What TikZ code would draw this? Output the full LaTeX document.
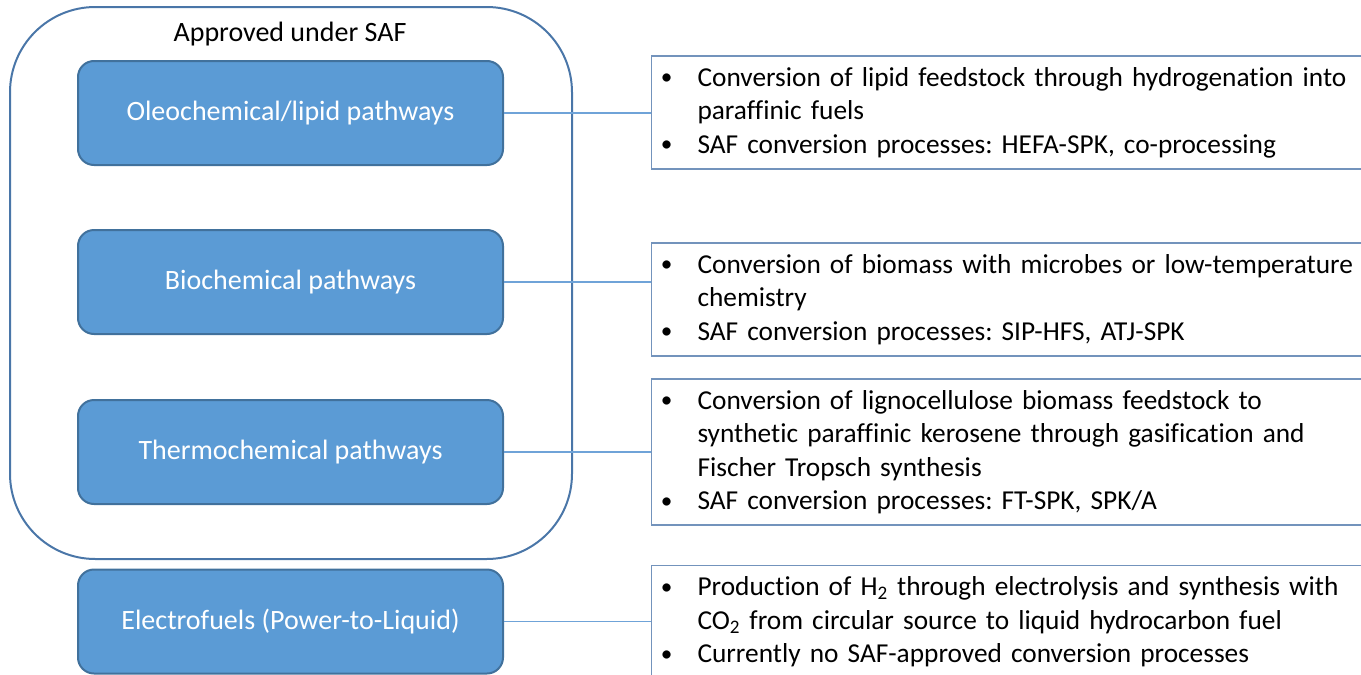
\documentclass[tikz,border=0pt]{standalone}
\usepackage{fontspec}
\setmainfont{Carlito}[Ligatures={NoCommon}]
\frenchspacing
\definecolor{bluefill}{HTML}{5B9BD5}
\definecolor{blueedge}{HTML}{41719C}
\definecolor{frameedge}{HTML}{4A76A8}
\definecolor{linkcol}{HTML}{6FA3D8}
\definecolor{noteedge}{HTML}{7393BC}
\newcommand{\bul}{\makebox[34.5pt][l]{\hspace{7pt}\raisebox{1pt}{\scalebox{0.85}{\textbullet}}}}
\newcommand{\cont}{\hspace*{34.5pt}}
\tikzset{
  px/.style={x=0.75pt,y=-0.75pt},
  pathbox/.style={draw=blueedge, line width=1.5pt, fill=bluefill, rounded corners=12pt,
    minimum width=318.75pt, minimum height=78pt, inner sep=0pt,
    text=white, font=\fontsize{21}{25}\selectfont},
  notebox/.style={draw=noteedge, line width=0.8pt, minimum width=547.5pt, inner xsep=0pt,
    inner ysep=0pt, align=left, text width=547.5pt,
    font=\fontsize{20.5}{25.1}\selectfont},
  frame/.style={draw=frameedge, line width=1.5pt, rounded corners=64pt},
  link/.style={draw=linkcol, line width=0.8pt}
}
\begin{document}
\begin{tikzpicture}[px]
\useasboundingbox (0,0) rectangle (1361,675);
\node[frame, minimum width=421.5pt, minimum height=414pt, anchor=north west] (saf) at (9,6) {};
\node[font=\fontsize{21}{25}\selectfont, anchor=center] (saftitle) at (290,34.5) {Approved under SAF};
\node[pathbox] (oleo) at (290.5,113) {Oleochemical/lipid pathways};
\node[pathbox] (bio) at (290.5,282) {Biochemical pathways};
\node[pathbox] (thermo) at (290.5,452) {Thermochemical pathways};
\node[pathbox] (elec) at (290.5,621.5) {Electrofuels (Power-to-Liquid)};
\node[notebox, minimum height=84.75pt, anchor=west] (n1) at (651,112.5) {%
\bul Conversion of lipid feedstock through hydrogenation into\\
\cont paraffinic fuels\\
\bul SAF conversion processes: HEFA-SPK, co-processing};
\node[notebox, minimum height=84.75pt, anchor=west] (n2) at (651,299.5) {%
\bul Conversion of biomass with microbes or low-temperature\\
\cont chemistry\\
\bul SAF conversion processes: SIP-HFS, ATJ-SPK};
\node[notebox, minimum height=109.5pt, anchor=west] (n3) at (651,452) {%
\bul Conversion of lignocellulose biomass feedstock to\\
\cont synthetic paraffinic kerosene through gasification and\\
\cont Fischer Tropsch synthesis\\
\bul SAF conversion processes: FT-SPK, SPK/A};
\node[notebox, minimum height=84.75pt, anchor=west] (n4) at (651,622) {%
\bul Production of H\textsubscript{2} through electrolysis and synthesis with\\
\cont CO\textsubscript{2} from circular source to liquid hydrocarbon fuel\\
\bul Currently no SAF-approved conversion processes};
\draw[link] (oleo.east) -- (oleo.east -| n1.west);
\draw[link] (bio.east) -- (bio.east -| n2.west);
\draw[link] (thermo.east) -- (thermo.east -| n3.west);
\draw[link] (elec.east) -- (elec.east -| n4.west);
\end{tikzpicture}
\end{document}
